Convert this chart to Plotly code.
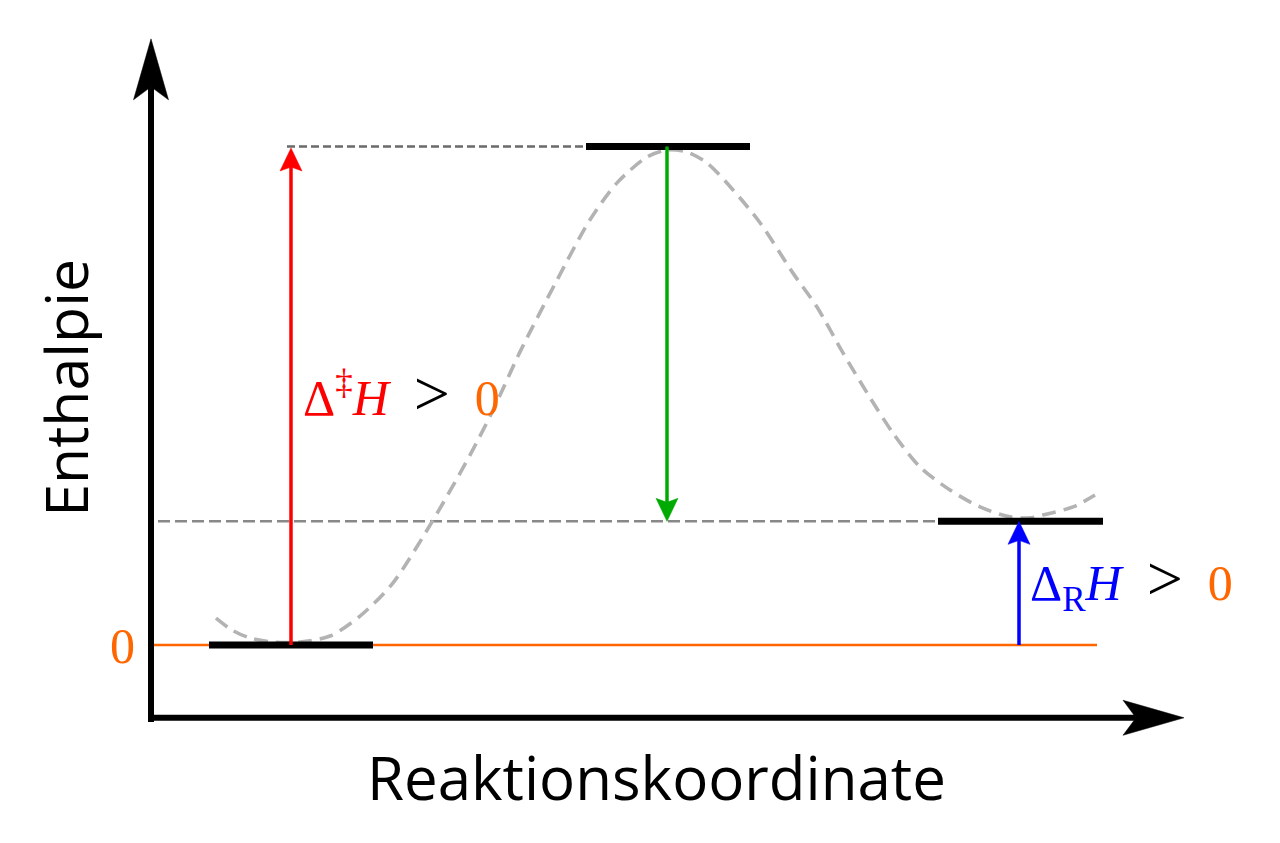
"""Enthalpy diagram of an endothermic reaction (Plotly)."""
import plotly.graph_objects as go

# --- data -----------------------------------------------------------------
# reaction coordinate (arbitrary units) and enthalpy (arbitrary units, reactant = 0)
level_names = ["Edukt", "Übergangszustand", "Produkt"]
level_start = [0.58, 4.35, 7.87]
level_end = [2.22, 5.99, 9.52]
level_h = [0.0, 100.0, 24.8]

# dashed energy profile
curve_x = [0.65, 0.81, 0.99, 1.22, 1.49, 1.79, 2.09, 2.41, 2.81, 3.19, 3.42, 3.69,
           4.06, 4.39, 4.66, 4.96, 5.16, 5.36, 5.56, 5.82, 6.09, 6.42, 6.66, 6.92,
           7.16, 7.42, 7.69, 7.99, 8.29, 8.59, 8.79, 8.92, 9.22, 9.44]
curve_h = [5.4, 3.0, 1.4, 0.6, 0.6, 1.8, 5.8, 12.2, 24.7, 38.1, 47.1, 58.8,
           73.2, 85.3, 92.7, 97.9, 99.3, 98.9, 96.7, 91.3, 84.7, 74.6, 67.8, 58.6,
           50.6, 42.5, 35.7, 31.1, 27.7, 25.7, 25.5, 26.1, 27.7, 30.1]

# arrows: x position, start enthalpy, end enthalpy, colour
arrow_x = [1.40, 5.16, 8.68]
arrow_from = [0.0, 100.0, 0.0]
arrow_to = [99.7, 24.8, 24.8]
arrow_col = ["#ff0000", "#00aa00", "#0000ff"]

zero_line = [0.03, 9.46]          # orange H = 0 line
ts_guide = [1.36, 4.35]           # dashed guide at transition state
prod_guide = [0.07, 7.87]         # dashed guide at product level

axis_x = [-0.03, 10.33]           # x axis extent (tip at the end)
axis_y = [-15.45, 121.6]          # y axis extent (tip at the end)
axis_x_h = -14.6                  # height of the x axis

# --- page geometry ----------------------------------------------------------
# the page body keeps an 8px margin, so the figure is 8px smaller and starts at (8, 8)
W, H = 1272, 835
SX = 100.0                 # px per x unit
SY = 843 / 169.11          # px per y unit
XR = [-1.51 + 8 / SX, 11.29]
YR = [-39.72, 129.39 - 8 / SY]


def head(tx, ty, dx, dy, length, half, notch):
    """Arrowhead polygon (sizes in px) with tip at (tx, ty), pointing along (dx, dy)."""
    px, py = tx * SX, ty * SY
    nx, ny = -dy, dx
    pts = [
        (px, py),
        (px - length * dx + half * nx, py - length * dy + half * ny),
        (px - (length - notch) * dx, py - (length - notch) * dy),
        (px - length * dx - half * nx, py - length * dy - half * ny),
        (px, py),
    ]
    return [p[0] / SX for p in pts], [p[1] / SY for p in pts]


fig = go.Figure()

# orange zero line
fig.add_trace(go.Scatter(x=zero_line, y=[0, 0], mode="lines",
                         line=dict(color="#ff6600", width=2.5), hoverinfo="skip"))

# dashed guides
fig.add_trace(go.Scatter(x=ts_guide, y=[level_h[1]] * 2, mode="lines",
                         line=dict(color="#6a6a6a", width=2.5, dash="8px,4px"),
                         hoverinfo="skip"))
fig.add_trace(go.Scatter(x=prod_guide, y=[level_h[2]] * 2, mode="lines",
                         line=dict(color="#888888", width=2.5, dash="12px,5px"),
                         hoverinfo="skip"))

# energy profile
fig.add_trace(go.Scatter(x=curve_x, y=curve_h, mode="lines",
                         line=dict(color="#b3b3b3", width=3.6, dash="14px,8px",
                                   shape="spline", smoothing=0.8),
                         hoverinfo="skip"))

# levels
for x0, x1, h in zip(level_start, level_end, level_h):
    fig.add_trace(go.Scatter(x=[x0, x1], y=[h, h], mode="lines",
                             line=dict(color="black", width=7), hoverinfo="skip"))

# coloured arrows
for x, h0, h1, col in zip(arrow_x, arrow_from, arrow_to, arrow_col):
    d = 1 if h1 > h0 else -1
    back = h1 - d * 18 / SY
    fig.add_trace(go.Scatter(x=[x, x], y=[h0, back], mode="lines",
                             line=dict(color=col, width=3.5), hoverinfo="skip"))
    hx, hy = head(x, h1, 0, d, 23, 11, 4)
    fig.add_trace(go.Scatter(x=hx, y=hy, mode="lines", fill="toself", fillcolor=col,
                             line=dict(color=col, width=0.5), hoverinfo="skip"))

# axes with arrowheads
fig.add_trace(go.Scatter(x=[axis_x[0], axis_x[1] - 48 / SX], y=[axis_x_h] * 2,
                         mode="lines", line=dict(color="black", width=6),
                         hoverinfo="skip"))
hx, hy = head(axis_x[1], axis_x_h, 1, 0, 61, 17.5, 13)
fig.add_trace(go.Scatter(x=hx, y=hy, mode="lines", fill="toself", fillcolor="black",
                         line=dict(color="black", width=0.5), hoverinfo="skip"))
fig.add_trace(go.Scatter(x=[0, 0], y=[axis_y[0], axis_y[1] - 48 / SY],
                         mode="lines", line=dict(color="black", width=6),
                         hoverinfo="skip"))
hx, hy = head(0, axis_y[1], 0, 1, 61, 17.5, 13)
fig.add_trace(go.Scatter(x=hx, y=hy, mode="lines", fill="toself", fillcolor="black",
                         line=dict(color="black", width=0.5), hoverinfo="skip"))

sans = "Open Sans"
serif = "Liberation Serif"
orange = "#ff6600"
gt = '<span style="font-size:64px">></span>'

annotations = [
    dict(x=-0.86, y=51.6, text="Enthalpie", textangle=-90,
         font=dict(family=sans, size=59, color="black")),
    dict(x=5.05, y=-26.5, text="Reaktionskoordinate",
         font=dict(family=sans, size=60, color="black")),
    dict(x=-0.29, y=-0.2, text="0", font=dict(family=serif, size=50, color=orange)),
    dict(x=1.50, y=50.4, xanchor="left",
         text=('<span style="color:#ff0000">Δ<sup>‡</sup><i>H</i></span>'
               '\u2002' + gt + '\u2002<span style="color:%s">0</span>' % orange),
         font=dict(family=serif, size=50, color="black")),
    dict(x=8.77, y=12.8, xanchor="left",
         text=('<span style="color:#0000ff">Δ<sub>R</sub><i>H</i></span>'
               '\u2002' + gt + '\u2002<span style="color:%s">0</span>' % orange),
         font=dict(family=serif, size=50, color="black")),
]
for a in annotations:
    a.update(xref="x", yref="y", showarrow=False)

fig.update_layout(
    width=W, height=H,
    margin=dict(l=0, r=0, t=0, b=0),
    paper_bgcolor="white", plot_bgcolor="white",
    showlegend=False,
    xaxis=dict(range=XR, visible=False, fixedrange=True),
    yaxis=dict(range=YR, visible=False, fixedrange=True),
    annotations=annotations,
)

fig.write_html("out.html")
